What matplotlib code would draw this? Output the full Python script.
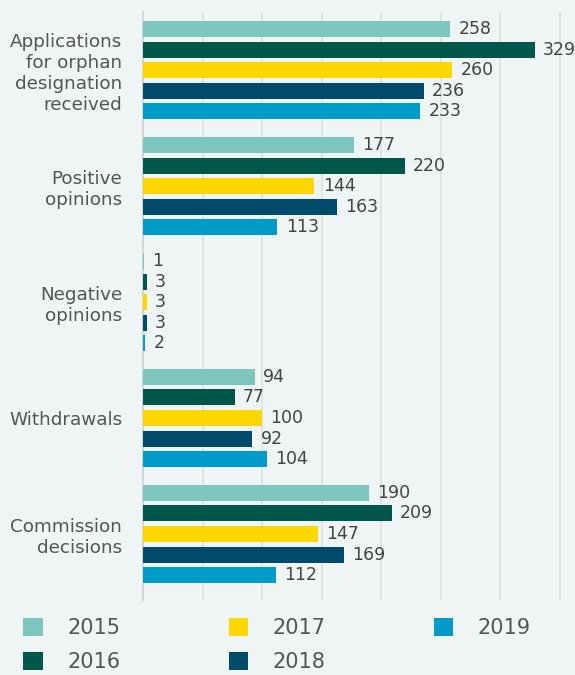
import numpy as np
import matplotlib
matplotlib.use("Agg")
import matplotlib.pyplot as plt
from matplotlib.patches import Patch

# Data
categories = ["Applications\nfor orphan\ndesignation\nreceived", "Positive\nopinions",
              "Negative\nopinions", "Withdrawals", "Commission\ndecisions"]
years = ["2015", "2016", "2017", "2018", "2019"]
values = {
    "2015": [258, 177, 1, 94, 190],
    "2016": [329, 220, 3, 77, 209],
    "2017": [260, 144, 3, 100, 147],
    "2018": [236, 163, 3, 92, 169],
    "2019": [233, 113, 2, 104, 112],
}
colors = ["#7dc6be", "#00574a", "#ffd700", "#004b6b", "#009bc8"]

bg = "#eff4f4"
txt = "#555555"

fig = plt.figure(figsize=(5.75, 6.75), dpi=100, facecolor=bg)
ax = fig.add_axes([0.2487, 0.111, 0.7513, 0.871], facecolor=bg)

y = np.arange(len(categories))
step = 0.177
h = 0.138
for j, yr in enumerate(years):
    pos = y + (j - 2) * step
    ax.barh(pos, values[yr], height=h, color=colors[j], zorder=3)
    for p, v in zip(pos, values[yr]):
        ax.text(v + 7, p, str(v), va="center", ha="left", fontsize=12.5,
                color="#444444", zorder=4)

ax.set_xlim(0, 363)
ax.set_ylim(4.57, -0.5)
ax.set_xticks(np.arange(50, 400, 50))
ax.set_xticklabels([])
ax.tick_params(axis="x", length=0)
ax.grid(axis="x", color="#dde2e2", linewidth=1.3, zorder=0)
ax.set_yticks(y)
ax.set_yticklabels(categories, fontsize=13.2, color=txt, linespacing=1.22)
ax.tick_params(axis="y", length=0, pad=15)
for s in ["top", "right", "bottom"]:
    ax.spines[s].set_visible(False)
ax.spines["left"].set_color("#cfd3d3")
ax.spines["left"].set_linewidth(1.3)

handles = [Patch(facecolor=c, edgecolor="none") for c in colors]
fig.legend(handles, years, ncol=3, loc="lower left", bbox_to_anchor=(0.008, -0.024),
           frameon=False, fontsize=15, labelcolor=txt, handlelength=0.95,
           handleheight=0.95, handletextpad=1.15, columnspacing=5.2,
           labelspacing=0.7)

fig.savefig("out.png", dpi=100, facecolor=bg)
